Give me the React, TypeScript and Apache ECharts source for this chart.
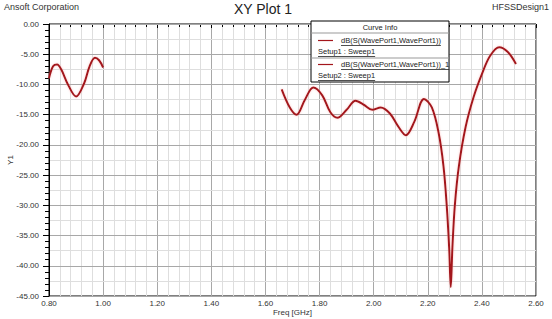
import React, { useEffect, useRef } from "react";
import * as echarts from "echarts";

const xTicks = [0.8, 1.0, 1.2, 1.4, 1.6, 1.8, 2.0, 2.2, 2.4, 2.6];
const yTicks = [0, -5, -10, -15, -20, -25, -30, -35, -40, -45];

const curve1Freq = [0.80, 0.815, 0.83, 0.845, 0.87, 0.90, 0.93, 0.95, 0.97, 0.985, 1.00];
const curve1dB = [-9.0, -7.0, -6.7, -7.5, -10.0, -12.0, -9.8, -7.0, -5.6, -6.0, -7.2];

const curve2Freq = [1.66, 1.69, 1.715, 1.745, 1.777, 1.81, 1.84, 1.866, 1.90, 1.933, 1.965, 1.995, 2.026, 2.06, 2.09, 2.119, 2.15, 2.186, 2.215, 2.24, 2.258, 2.27, 2.279, 2.285, 2.291, 2.30, 2.315, 2.34, 2.37, 2.40, 2.43, 2.464, 2.495, 2.526];
const curve2dB = [-10.8, -13.8, -15.0, -12.6, -10.5, -11.8, -14.6, -15.5, -14.2, -12.7, -13.4, -14.2, -13.8, -14.8, -16.9, -18.4, -16.2, -12.4, -13.8, -18.0, -23.5, -30.0, -37.0, -43.5, -37.0, -30.0, -23.5, -17.0, -12.0, -8.3, -5.3, -3.85, -4.6, -6.6];

const legendNames = ["dB(S(WavePort1,WavePort1))", "dB(S(WavePort1,WavePort1))_1"];
const legendSetups = ["Setup1 : Sweep1", "Setup2 : Sweep1"];

const FONT = "'Liberation Sans', Arial, sans-serif";
const RED = "#a3161c";

function measure(text: string, size: number): number {
  const c = document.createElement("canvas");
  const ctx = c.getContext("2d");
  if (!ctx) return text.length * size * 0.5;
  ctx.font = `${size}px ${FONT}`;
  return ctx.measureText(text).width;
}

export default function App() {
  const ref = useRef<HTMLDivElement>(null);
  useEffect(() => {
    if (!ref.current) return;
    const chart = echarts.init(ref.current, undefined, { renderer: "svg" });

    const boxX = 311, boxY = 21, boxW = 138, boxH = 61;
    const legSize = 7.5;
    const graphics: any[] = [
      { type: "text", left: 4, top: 2, style: { text: "Ansoft Corporation", font: `9px ${FONT}`, fill: "#333" } },
      { type: "text", x: 263, y: 2, style: { text: "XY Plot 1", font: `14px ${FONT}`, fill: "#222", textAlign: "center" } },
      { type: "text", x: 549, y: 2, style: { text: "HFSSDesign1", font: `9px ${FONT}`, fill: "#333", textAlign: "right" } },
      { type: "rect", z: 10, shape: { x: boxX, y: boxY, width: boxW, height: boxH }, style: { fill: "#fff", stroke: "#000", lineWidth: 1 } },
      { type: "text", z: 11, x: boxX + boxW / 2, y: boxY + 6, style: { text: "Curve Info", font: `${legSize}px ${FONT}`, fill: "#222", textAlign: "center", textVerticalAlign: "middle" } },
      { type: "line", z: 11, shape: { x1: boxX, y1: boxY + 12, x2: boxX + boxW, y2: boxY + 12 }, style: { stroke: "#999", lineWidth: 1 } },
      { type: "line", z: 11, shape: { x1: boxX, y1: boxY + 37, x2: boxX + boxW, y2: boxY + 37 }, style: { stroke: "#999", lineWidth: 1 } },
    ];
    legendNames.forEach((name, i) => {
      const y1 = boxY + 19.5 + i * 24;
      const y2 = boxY + 30.5 + i * 24;
      const tx = boxX + 30;
      const w1 = measure(name, legSize);
      const w2 = measure(legendSetups[i], legSize);
      graphics.push(
        { type: "line", z: 11, shape: { x1: boxX + 7, y1, x2: boxX + 22, y2: y1 }, style: { stroke: RED, lineWidth: 1.2 } },
        { type: "text", z: 11, x: tx, y: y1, style: { text: name, font: `${legSize}px ${FONT}`, fill: "#222", textVerticalAlign: "middle" } },
        { type: "line", z: 11, shape: { x1: tx, y1: y1 + 5, x2: tx + w1, y2: y1 + 5 }, style: { stroke: "#222", lineWidth: 0.8 } },
        { type: "text", z: 11, x: boxX + 7, y: y2, style: { text: legendSetups[i], font: `${legSize}px ${FONT}`, fill: "#222", textVerticalAlign: "middle" } },
        { type: "line", z: 11, shape: { x1: boxX + 7, y1: y2 + 5, x2: boxX + 7 + w2, y2: y2 + 5 }, style: { stroke: "#222", lineWidth: 0.8 } }
      );
    });

    const lineSeries = (freq: number[], db: number[], name: string) => ({
      type: "line",
      name,
      data: freq.map((f, i) => [f, db[i]]),
      showSymbol: false,
      smooth: 0.35,
      lineStyle: { color: RED, width: 2, shadowColor: "rgba(255,140,140,0.5)", shadowBlur: 2 },
      z: 5,
    });

    chart.setOption({
      animation: false,
      grid: { left: 49, right: 16, top: 24, bottom: 23, outerBoundsMode: "none", containLabel: false, show: true, borderColor: "#000", borderWidth: 1, backgroundColor: "#fff" },
      xAxis: {
        type: "value",
        min: xTicks[0],
        max: xTicks[xTicks.length - 1],
        interval: 0.2,
        name: "Freq [GHz]",
        nameLocation: "middle",
        nameGap: 12,
        nameMoveOverlap: false,
        nameTextStyle: { fontFamily: FONT, fontSize: 8, color: "#333" },
        axisLine: { lineStyle: { color: "#000", width: 1 } },
        axisTick: { show: true, length: 4, lineStyle: { color: "#000" } },
        minorTick: { show: true, splitNumber: 5, length: 3, lineStyle: { color: "#000" } },
        axisLabel: { fontFamily: FONT, fontSize: 8, color: "#333", margin: 3, formatter: (v: number) => v.toFixed(2) },
        splitLine: { show: true, lineStyle: { color: "#a8a8a8", width: 1 } },
        minorSplitLine: { show: true, lineStyle: { color: "#dedede", width: 1 } },
      },
      yAxis: [
        {
          type: "value",
          min: yTicks[yTicks.length - 1],
          max: yTicks[0],
          interval: 5,
          name: "Y1",
          nameLocation: "middle",
          nameGap: 35,
          nameMoveOverlap: false,
          nameTextStyle: { fontFamily: FONT, fontSize: 8, color: "#333" },
          axisLine: { show: true, lineStyle: { color: "#000", width: 1 } },
          axisTick: { show: true, length: 6, lineStyle: { color: "#000" } },
          minorTick: { show: true, splitNumber: 5, length: 4, lineStyle: { color: "#000" } },
          axisLabel: { fontFamily: FONT, fontSize: 8, color: "#333", margin: 10, formatter: (v: number) => v.toFixed(2) },
          splitLine: { show: true, lineStyle: { color: "#a8a8a8", width: 1 } },
          z: 3,
        },
        {
          type: "value",
          min: yTicks[yTicks.length - 1],
          max: yTicks[0],
          interval: 2.5,
          position: "right",
          axisLine: { show: false },
          axisTick: { show: false },
          axisLabel: { show: false },
          splitLine: { show: true, lineStyle: { color: "#dedede", width: 1 } },
          z: 1,
        },
      ],
      series: [
        lineSeries(curve1Freq, curve1dB, legendNames[0]),
        lineSeries(curve2Freq, curve2dB, legendNames[1]),
      ],
      graphic: graphics,
    });
    return () => chart.dispose();
  }, []);
  return <div ref={ref} style={{ position: "fixed", left: 0, top: 0, width: 552, height: 319, background: "#fff" }} />;
}
